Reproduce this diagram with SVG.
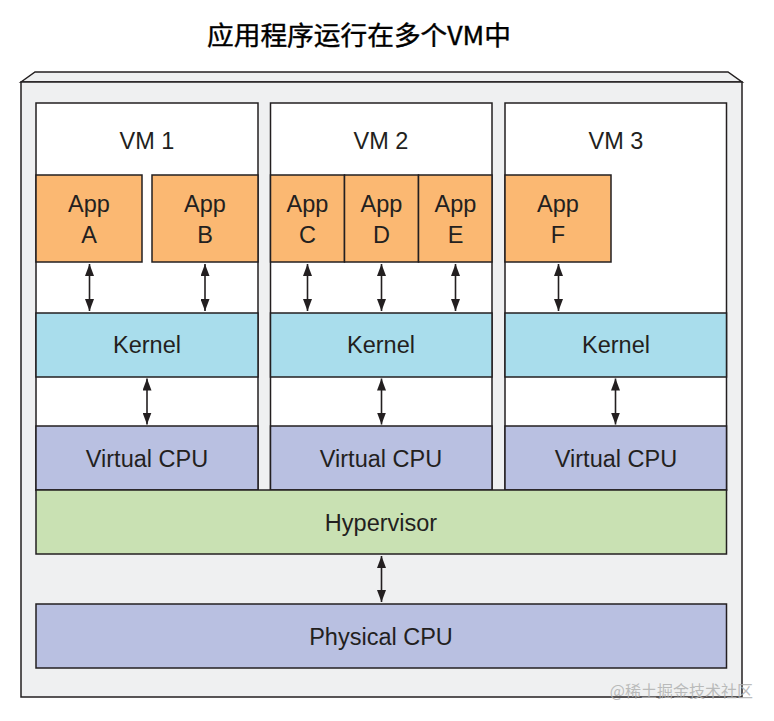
<svg xmlns="http://www.w3.org/2000/svg" width="774" height="721" viewBox="0 0 774 721">
<style>
.bx{stroke:#231f20;stroke-width:1.5}
.vm{fill:#ffffff}
.app{fill:#fbb872}
.ker{fill:#a9ddec}
.cpu{fill:#b9c0e1}
.hyp{fill:#c9e1b3}
.t{font-family:"Liberation Sans",Arial,Helvetica,sans-serif;font-size:23.5px;fill:#231f20;text-anchor:middle}
.ar{stroke:#231f20;stroke-width:1.6;fill:none;marker-start:url(#ah);marker-end:url(#ah)}
</style>
<defs>
<marker id="ah" viewBox="0 0 12 9" refX="12" refY="4.5" markerWidth="12" markerHeight="9" markerUnits="userSpaceOnUse" orient="auto-start-reverse">
<path d="M0,0 L12,4.5 L0,9 Z" fill="#231f20"/>
</marker>
</defs>
<rect width="774" height="721" fill="#ffffff"/>
<text x="359" y="45" font-family="'Noto Sans CJK SC',sans-serif" font-size="26" fill="#000" stroke="#000" stroke-width="0.4" text-anchor="middle" textLength="304" lengthAdjust="spacingAndGlyphs">应用程序运行在多个VM中</text>
<g id="host">
<polygon class="bx" points="21,82 35,72 728,72 742,82" fill="#eff0f1"/>
<rect class="bx" x="21" y="82" width="721" height="615" fill="#eff0f1"/>
</g>
<g id="vm1">
<rect class="bx vm" x="36" y="103" width="222" height="387"/>
<text class="t" x="147" y="149">VM 1</text>
</g>
<g id="vm2">
<rect class="bx vm" x="270.5" y="103" width="221.5" height="387"/>
<text class="t" x="381" y="149">VM 2</text>
</g>
<g id="vm3">
<rect class="bx vm" x="505" y="103" width="221.5" height="387"/>
<text class="t" x="616" y="149">VM 3</text>
</g>
<g id="appA"><rect class="bx app" x="36" y="175" width="106" height="87"/><text class="t" x="89" y="212">App</text><text class="t" x="89" y="243">A</text></g>
<g id="appB"><rect class="bx app" x="152" y="175" width="106" height="87"/><text class="t" x="205" y="212">App</text><text class="t" x="205" y="243">B</text></g>
<g id="appC"><rect class="bx app" x="270.5" y="175" width="74" height="87"/><text class="t" x="307.5" y="212">App</text><text class="t" x="307.5" y="243">C</text></g>
<g id="appD"><rect class="bx app" x="344.5" y="175" width="74" height="87"/><text class="t" x="381.5" y="212">App</text><text class="t" x="381.5" y="243">D</text></g>
<g id="appE"><rect class="bx app" x="418.5" y="175" width="73.5" height="87"/><text class="t" x="455.5" y="212">App</text><text class="t" x="455.5" y="243">E</text></g>
<g id="appF"><rect class="bx app" x="505" y="175" width="106" height="87"/><text class="t" x="558" y="212">App</text><text class="t" x="558" y="243">F</text></g>
<g id="kernel1"><rect class="bx ker" x="36" y="313" width="222" height="64"/><text class="t" x="147" y="353">Kernel</text></g>
<g id="kernel2"><rect class="bx ker" x="270.5" y="313" width="221.5" height="64"/><text class="t" x="381" y="353">Kernel</text></g>
<g id="kernel3"><rect class="bx ker" x="505" y="313" width="221.5" height="64"/><text class="t" x="616" y="353">Kernel</text></g>
<g id="vcpu1"><rect class="bx cpu" x="36" y="426" width="222" height="64"/><text class="t" x="147" y="467">Virtual CPU</text></g>
<g id="vcpu2"><rect class="bx cpu" x="270.5" y="426" width="221.5" height="64"/><text class="t" x="381" y="467">Virtual CPU</text></g>
<g id="vcpu3"><rect class="bx cpu" x="505" y="426" width="221.5" height="64"/><text class="t" x="616" y="467">Virtual CPU</text></g>
<g id="hypervisor"><rect class="bx hyp" x="36" y="490" width="690.5" height="64"/><text class="t" x="381" y="531">Hypervisor</text></g>
<g id="physical"><rect class="bx cpu" x="36" y="604" width="690.5" height="64"/><text class="t" x="381" y="645">Physical CPU</text></g>
<g id="connectors">
<line class="ar" x1="89.5" y1="264" x2="89.5" y2="311"/>
<line class="ar" x1="205" y1="264" x2="205" y2="311"/>
<line class="ar" x1="307.5" y1="264" x2="307.5" y2="311"/>
<line class="ar" x1="381.5" y1="264" x2="381.5" y2="311"/>
<line class="ar" x1="455.5" y1="264" x2="455.5" y2="311"/>
<line class="ar" x1="558.5" y1="264" x2="558.5" y2="311"/>
<line class="ar" x1="147" y1="378.5" x2="147" y2="424.5"/>
<line class="ar" x1="381.5" y1="378.5" x2="381.5" y2="424.5"/>
<line class="ar" x1="615.5" y1="378.5" x2="615.5" y2="424.5"/>
<line class="ar" x1="381.5" y1="556" x2="381.5" y2="602"/>
</g>
<text x="753" y="697" font-family="'Noto Sans CJK SC',sans-serif" font-size="16" fill="#b0b0b0" fill-opacity="0.85" text-anchor="end">@稀土掘金技术社区</text>
</svg>
